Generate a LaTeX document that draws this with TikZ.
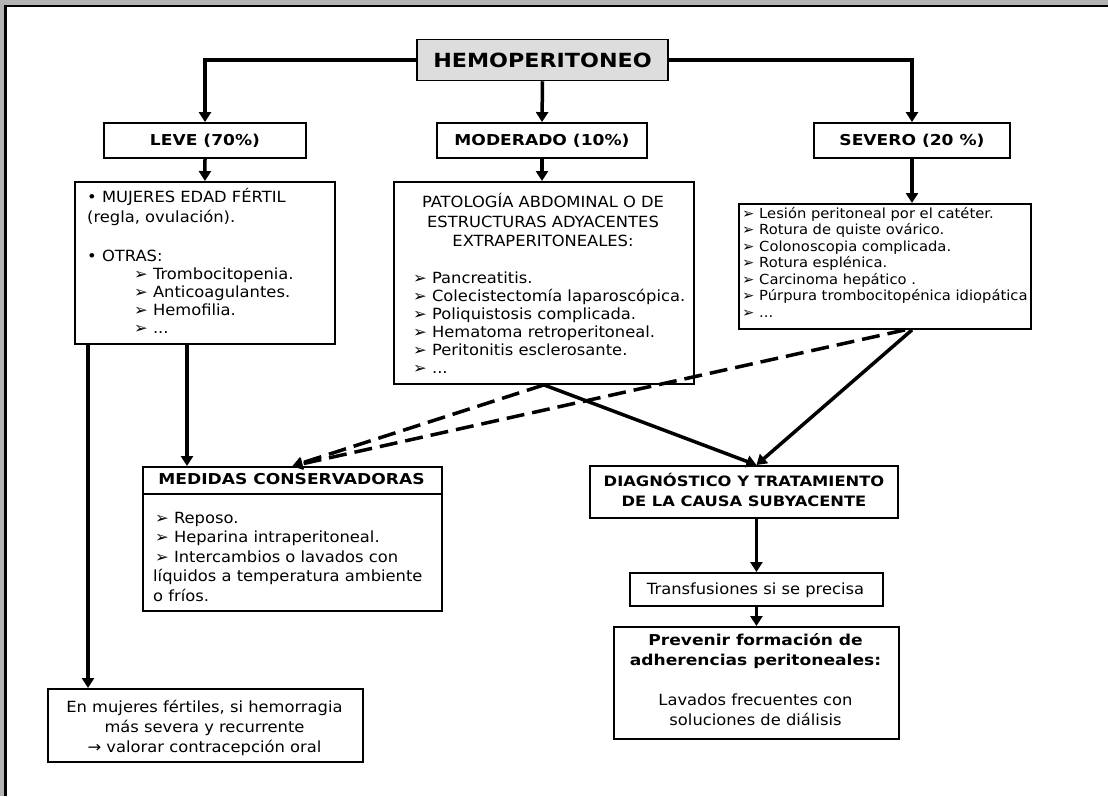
\documentclass[tikz,border=0pt]{standalone}
\usepackage{fontspec}
\usetikzlibrary{arrows.meta}
\setmainfont{DejaVu Sans}
\newfontfamily\txtfont{DejaVu Sans}[FakeStretch=1.06]
\newfontfamily\hdfont{DejaVu Sans}[FakeStretch=1.14]
\definecolor{framegray}{HTML}{B3B3B3}
\definecolor{titlegray}{HTML}{DDDDDD}

\tikzset{
  box/.style={draw, line width=1.9pt, fill=white, inner sep=0pt, anchor=north west},
  lbl/.style={draw, line width=1.9pt, fill=white, inner sep=0pt,
    font=\hdfont\bfseries\fontsize{15}{18}\selectfont},
  hd/.style={font=\hdfont\bfseries\fontsize{15}{18}\selectfont, inner sep=0pt, anchor=base},
  hds/.style={hd, font=\hdfont\bfseries\fontsize{14.3}{18}\selectfont},
  tx/.style={font=\txtfont\fontsize{15.4}{18}\selectfont, inner sep=0pt, anchor=base west},
  txc/.style={tx, anchor=base},
  txs/.style={font=\txtfont\fontsize{13.9}{16}\selectfont, inner sep=0pt, anchor=base west},
  link/.style={line width=3.5pt, -{Triangle[length=10pt,width=12pt]}},
  dlink/.style={link, dash pattern=on 18pt off 8pt},
}

\begin{document}
\begin{tikzpicture}[x=1pt,y=-1pt]
\useasboundingbox (0,0) rectangle (1108,796);
% page frame
\fill[framegray] (0,0) rectangle (1108,796);
\fill[white] (5.5,6) rectangle (1108,796);
\draw[line width=2.4pt] (5.5,796) -- (5.5,6) -- (1108,6);

% title and the three grades
\node[lbl, fill=titlegray, line width=1.5pt, minimum width=251pt, minimum height=41pt,
  font=\hdfont\bfseries\fontsize{19.5}{22}\selectfont] (hemo) at (542.5,60) {HEMOPERITONEO};
\node[lbl, minimum width=202pt, minimum height=35pt] (leve) at (205,140.5) {LEVE (70\%)};
\node[lbl, minimum width=210pt, minimum height=35pt] (mod) at (542,140.5) {MODERADO (10\%)};
\node[lbl, minimum width=196pt, minimum height=35pt] (sev) at (912,140.5) {SEVERO (20 \%)};

% cause boxes
\node[box, minimum width=260pt, minimum height=162pt] (leveD) at (74,181) {};
\node[box, minimum width=300pt, minimum height=202pt] (modD) at (393,181) {};
\node[box, minimum width=292pt, minimum height=125pt] (sevD) at (738,203) {};

\node[tx] (lv1) at (87,202.5) {• MUJERES EDAD FÉRTIL};
\node[tx] (lv2) at (87,222.5) {(regla, ovulación).};
\node[tx] (lv3) at (87,261) {• OTRAS:};
\foreach \n/\yy/\t in {4/279/{➢ Trombocitopenia.},5/297/{➢ Anticoagulantes.},
  6/315/{➢ Hemofilia.},7/333/{➢ ...}}
  \node[tx] (lv\n) at (134,\yy) {\t};

\node[txc] (md1) at (543,207) {PATOLOGÍA ABDOMINAL O DE};
\node[txc] (md2) at (543,227) {ESTRUCTURAS ADYACENTES};
\node[txc] (md3) at (543,246) {EXTRAPERITONEALES:};
\foreach \n/\yy/\t in {4/283/{➢ Pancreatitis.},5/301/{➢ Colecistectomía laparoscópica.},
  6/319/{➢ Poliquistosis complicada.},7/337/{➢ Hematoma retroperitoneal.},
  8/355/{➢ Peritonitis esclerosante.},9/373/{➢ ...}}
  \node[tx] (md\n) at (413,\yy) {\t};

\foreach \n/\yy/\t in {1/218/{➢ Lesión peritoneal por el catéter.},2/234.5/{➢ Rotura de quiste ovárico.},
  3/251/{➢ Colonoscopia complicada.},4/267.5/{➢ Rotura esplénica.},
  5/284/{➢ Carcinoma hepático .},6/300.5/{➢ Púrpura trombocitopénica idiopática},7/317/{➢ ...}}
  \node[txs] (sv\n) at (742,\yy) {\t};

% management boxes
\node[box, minimum width=299pt, minimum height=144pt] (med) at (142,466) {};
\draw[line width=1.9pt] ([yshift=-28pt]med.north west) -- ([yshift=-28pt]med.north east);
\node[hd] (medT) at (291.5,484) {MEDIDAS CONSERVADORAS};
\foreach \n/\xx/\yy/\t in {1/155/523/{➢ Reposo.},2/155/542/{➢ Heparina intraperitoneal.},
  3/155/562/{➢ Intercambios o lavados con},4/153/581/{líquidos a temperatura ambiente},
  5/153/601/{o fríos.}}
  \node[tx] (me\n) at (\xx,\yy) {\t};

\node[box, minimum width=308pt, minimum height=52pt] (diag) at (589,465) {};
\node[hds] (dg1) at (744,486.5) {DIAGNÓSTICO Y TRATAMIENTO};
\node[hds] (dg2) at (744,506.5) {DE LA CAUSA SUBYACENTE};

\node[box, minimum width=253pt, minimum height=33pt] (trans) at (629,572) {};
\node[txc] (tr1) at (755.5,594) {Transfusiones si se precisa};

\node[box, minimum width=285pt, minimum height=112pt] (prev) at (613,626) {};
\node[hd] (pv1) at (755.5,645.5) {Prevenir formación de};
\node[hd] (pv2) at (755.5,665.5) {adherencias peritoneales:};
\node[txc] (pv3) at (755.5,705) {Lavados frecuentes con};
\node[txc] (pv4) at (755.5,725) {soluciones de diálisis};

\node[box, minimum width=315pt, minimum height=73pt] (fem) at (47,688) {};
\node[txc] (fm1) at (204.5,712.5) {En mujeres fértiles, si hemorragia};
\node[txc] (fm2) at (204.5,732) {más severa y recurrente};
\node[txc] (fm3) at (204.5,752) {→ valorar contracepción oral};

% connectors
\draw[link] (hemo.west) -| (leve.north);
\draw[link] (hemo.south) -- (mod.north);
\draw[link] (hemo.east) -| (sev.north);
\draw[link] (leve.south) -- (leveD.north);
\draw[link] (mod.south) -- (mod.south |- modD.north);
\draw[link] (sev.south) -- (sev.south |- sevD.north);

\draw[link] (187,0 |- leveD.south) -- (187,0 |- med.north);
\draw[link] (88,0 |- leveD.south) -- (88,0 |- fem.north);

\coordinate (sevA) at (905,0 |- sevD.south);
\coordinate (sevB) at (912,0 |- sevD.south);
\coordinate (diagIn) at (trans.north |- diag.north);
\draw[dlink] (modD.south) -- (med.north);
\draw[dlink] (sevA) -- (med.north);
\draw[link] (modD.south) -- (diagIn);
\draw[link] (sevB) -- (diagIn);

\draw[link] (trans.north |- diag.south) -- (trans.north);
\draw[link] (trans.south) -- (prev.north);
\end{tikzpicture}
\end{document}
